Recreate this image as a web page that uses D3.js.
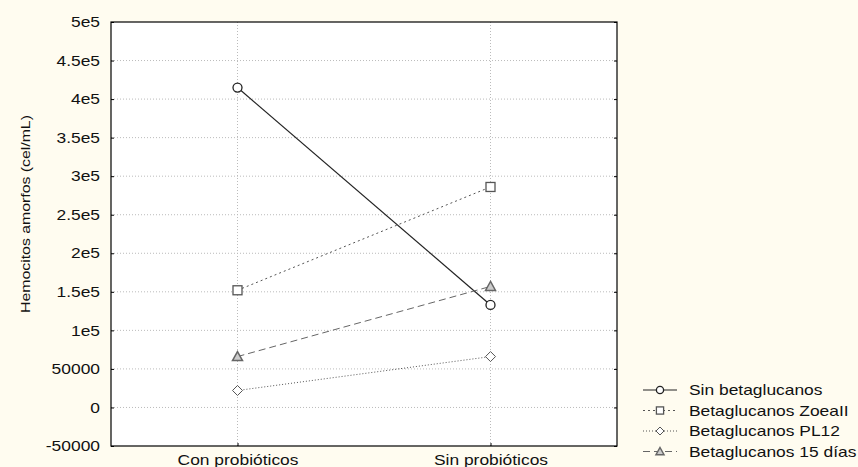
<!DOCTYPE html>
<html><head><meta charset="utf-8">
<script src="https://cdn.jsdelivr.net/npm/d3@7"></script>
<style>body{margin:0;background:#FFFCF0;}svg{display:block;font-family:"Liberation Sans",Arial,sans-serif;}</style>
</head><body>
<svg id="c" width="858" height="467"></svg>
<script>
const categories = ["Con probióticos", "Sin probióticos"];
const seriesNames = ["Sin betaglucanos", "Betaglucanos ZoeaII", "Betaglucanos PL12", "Betaglucanos 15 días"];
const sinBeta = [415000, 133000];
const zoeaII = [152000, 286000];
const pl12 = [22000, 66000];
const dias15 = [66000, 157000];
const yTicks = [-50000, 0, 50000, 100000, 150000, 200000, 250000, 300000, 350000, 400000, 450000, 500000];
const yTickLabels = ["-50000", "0", "50000", "1e5", "1.5e5", "2e5", "2.5e5", "3e5", "3.5e5", "4e5", "4.5e5", "5e5"];
const yTitle = "Hemocitos amorfos (cel/mL)";

const series = [
  {name: seriesNames[0], values: sinBeta, dash: null, color: "#222", marker: "circle"},
  {name: seriesNames[1], values: zoeaII, dash: "2,3", color: "#555", marker: "square"},
  {name: seriesNames[2], values: pl12, dash: "1,2", color: "#555", marker: "diamond"},
  {name: seriesNames[3], values: dias15, dash: "7,4", color: "#666", marker: "triangle"}
];

const STRETCH = 1.2;
function stretch(sel) {
  sel.each(function () {
    const w = this.getComputedTextLength();
    d3.select(this).attr("textLength", w * STRETCH).attr("lengthAdjust", "spacingAndGlyphs");
  });
}

const svg = d3.select("#c");
const L = 111, R = 617, T = 22, B = 446;
const x = d3.scalePoint().domain(categories).range([L, R]).padding(0.5);
const y = d3.scaleLinear().domain([-50000, 500000]).range([B, T]);

svg.append("rect").attr("x", L).attr("y", T).attr("width", R - L).attr("height", B - T).attr("fill", "#fff");

// grid
svg.append("g").selectAll("line").data(yTicks.slice(1, -1)).join("line")
  .attr("x1", L).attr("x2", R).attr("y1", d => y(d)).attr("y2", d => y(d))
  .attr("stroke", "#bbb").attr("stroke-dasharray", "1,2").attr("stroke-width", 1);
svg.append("g").selectAll("line").data(categories).join("line")
  .attr("x1", d => x(d)).attr("x2", d => x(d)).attr("y1", T).attr("y2", B)
  .attr("stroke", "#bbb").attr("stroke-dasharray", "1,2").attr("stroke-width", 1);

// axes
const yAxis = d3.axisLeft(y).tickValues(yTicks).tickFormat((d, i) => yTickLabels[i]).tickSize(3).tickPadding(8);
const ga = svg.append("g").attr("transform", `translate(${L},0)`).call(yAxis);
ga.select(".domain").remove();
ga.selectAll(".tick line").attr("x2", 3).attr("stroke", "#000");
ga.selectAll("text").attr("font-size", 14.5).attr("fill", "#111").attr("font-family", '"Liberation Sans",Arial,sans-serif').call(stretch);
const yAxisR = d3.axisRight(y).tickValues(yTicks).tickSize(0).tickFormat("");
const gr = svg.append("g").attr("transform", `translate(${R},0)`).call(yAxisR);
gr.select(".domain").remove();
gr.selectAll(".tick line").attr("x1", -3).attr("x2", 0).attr("stroke", "#000");

const xAxis = d3.axisBottom(x).tickSize(0).tickPadding(9);
const gx = svg.append("g").attr("transform", `translate(0,${B})`).call(xAxis);
gx.select(".domain").remove();
gx.selectAll(".tick line").attr("y1", -3).attr("y2", 0).attr("stroke", "#000");
gx.selectAll("text").attr("font-size", 14.5).attr("fill", "#111").attr("font-family", '"Liberation Sans",Arial,sans-serif').attr("dy", "0.71em").call(stretch);

svg.append("rect").attr("x", L).attr("y", T).attr("width", R - L).attr("height", B - T)
  .attr("fill", "none").attr("stroke", "#000").attr("stroke-width", 1.2);

// y title
svg.append("text").attr("transform", `translate(30,${(T + B) / 2 - 20}) rotate(-90)`)
  .attr("text-anchor", "middle").attr("font-size", 13.2).attr("fill", "#111").text(yTitle).call(stretch);

function drawMarker(g, type, cx, cy, color, s) {
  s = s || 1;
  if (type === "circle") g.append("circle").attr("cx", cx).attr("cy", cy).attr("r", 4.5 * s).attr("fill", "#fff").attr("stroke", color).attr("stroke-width", 1.3);
  else if (type === "square") g.append("rect").attr("x", cx - 4.5 * s).attr("y", cy - 4.5 * s).attr("width", 9 * s).attr("height", 9 * s).attr("fill", "#fff").attr("stroke", color).attr("stroke-width", 1.3);
  else if (type === "diamond") g.append("path").attr("d", `M${cx},${cy - 5 * s}L${cx + 5 * s},${cy}L${cx},${cy + 5 * s}L${cx - 5 * s},${cy}Z`).attr("fill", "#fff").attr("stroke", color).attr("stroke-width", 1);
  else g.append("path").attr("d", `M${cx},${cy - 5 * s}L${cx + 5 * s},${cy + 4 * s}L${cx - 5 * s},${cy + 4 * s}Z`).attr("fill", "#ccc").attr("stroke", color).attr("stroke-width", 1.5);
}

const line = d3.line().x((d, i) => x(categories[i])).y(d => y(d));
series.forEach(s => {
  const g = svg.append("g");
  g.append("path").attr("d", line(s.values)).attr("fill", "none").attr("stroke", s.color)
    .attr("stroke-width", s.dash ? 1 : 1.2).attr("stroke-dasharray", s.dash);
  s.values.forEach((v, i) => drawMarker(g, s.marker, x(categories[i]), y(v), s.color));
});

// legend
const lg = svg.append("g");
series.forEach((s, i) => {
  const yy = 390 + i * 20.5;
  lg.append("line").attr("x1", 643).attr("x2", 677).attr("y1", yy).attr("y2", yy)
    .attr("stroke", s.color).attr("stroke-width", 1).attr("stroke-dasharray", s.dash);
  drawMarker(lg, s.marker, 660, yy, s.color, 0.8);
  lg.append("text").attr("x", 689).attr("y", yy).attr("dy", "0.35em").attr("font-size", 14.5).attr("fill", "#111").text(s.name).call(stretch);
});
</script>
</body></html>
